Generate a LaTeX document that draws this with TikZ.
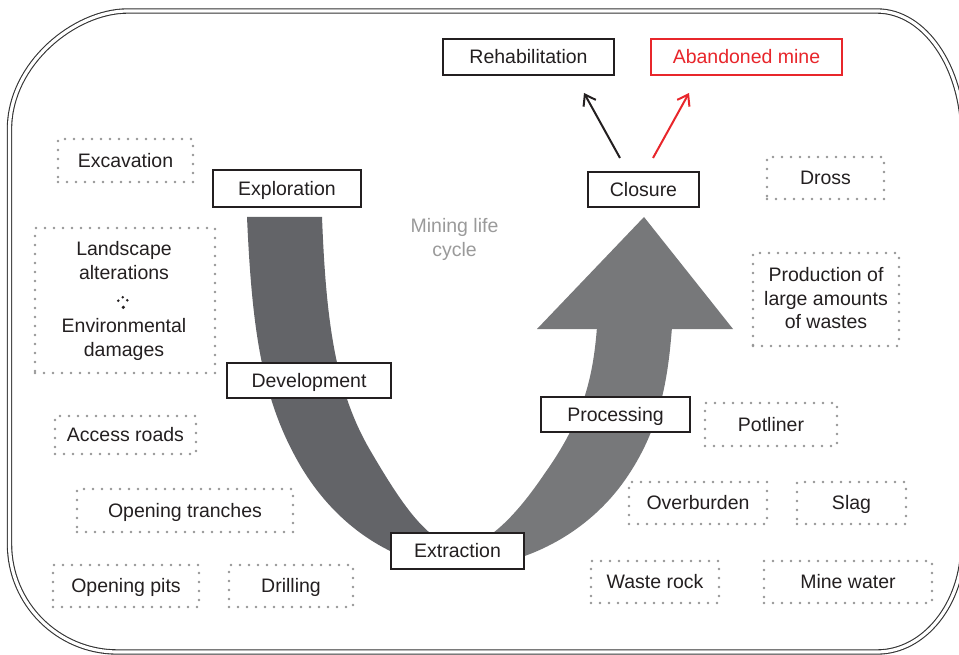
\documentclass[tikz,border=0pt]{standalone}
\usepackage{fontspec}
\setmainfont{Liberation Sans}
\usetikzlibrary{arrows.meta}
\definecolor{txt}{HTML}{231F20}
\definecolor{dotg}{HTML}{959595}
\definecolor{bandA}{HTML}{636468}
\definecolor{bandB}{HTML}{77787A}
\definecolor{redc}{HTML}{E8262B}
\definecolor{lifeg}{HTML}{9A9A9A}
\definecolor{framec}{HTML}{333333}
\begin{document}
\begin{tikzpicture}[x=1pt,y=-1pt,
  every node/.style={font=\fontsize{19.5}{24}\selectfont, text=txt},
  stagebox/.style={draw=txt, line width=1.2pt, fill=white, inner sep=0pt, text height=17.4pt, text depth=4pt},
  dotbox/.style={draw=dotg, line width=2.9pt, dash pattern=on 0pt off 9pt, line cap=round, inner sep=0pt, text height=17.4pt, text depth=4pt},
  plain/.style={align=center, inner sep=0pt},
  tiparrow/.style={line width=2pt, -{Straight Barb[length=10pt,width=14pt]}}
]
\useasboundingbox (0,0) rectangle (959,655);
\clip (0,0) rectangle (959,655);
% frame
\draw[framec, line width=1.1pt, double=white, double distance=3.2pt]
  (9.5,129) .. controls (9.5,63.8) and (74.7,11) .. (127.5,11)
  -- (877,11) .. controls (924.5,11) and (963,67) .. (963,136)
  -- (963,544) .. controls (963,603.6) and (924.5,652) .. (877,652)
  -- (117.5,652) .. controls (57.9,652) and (9.5,603.6) .. (9.5,544)
  -- cycle;
% U band, left part
\fill[bandA] (247,217) .. controls (252,330) and (262,400) .. (300,465)
  .. controls (338,530) and (400,568) .. (464,569)
  -- (464,549) .. controls (430,545) and (405,510) .. (370,450)
  .. controls (335,390) and (326,320) .. (322,217) -- cycle;
% U band, right part
\fill[bandB] (458,569) .. controls (530,566) and (590,530) .. (625,480)
  .. controls (660,430) and (668,380) .. (672,327)
  -- (597,327) .. controls (593,380) and (582,421) .. (545,473)
  .. controls (520,510) and (490,545) .. (458,549) -- cycle;
\fill[bandB] (537,329) -- (644,217) -- (733,329) -- cycle;
% stage boxes
\node[stagebox, minimum width=171pt, minimum height=36pt] (rehab) at (528.5,57) {Rehabilitation};
\node[stagebox, draw=redc, text=redc, minimum width=191pt, minimum height=36pt] (aband) at (746.5,57) {Abandoned mine};
\node[stagebox, minimum width=111pt, minimum height=35pt] (closure) at (643.5,189.5) {Closure};
\node[stagebox, minimum width=148pt, minimum height=37pt] (explor) at (287,188.5) {Exploration};
\node[stagebox, minimum width=164pt, minimum height=35pt] (devel) at (309,380.5) {Development};
\node[stagebox, minimum width=133pt, minimum height=36pt] (extract) at (457.5,551) {Extraction};
\node[stagebox, minimum width=149pt, minimum height=35pt] (process) at (615.5,414.5) {Processing};
% arrows from closure
\coordinate (a1s) at (620,158);
\coordinate (a1e) at (584,93);
\coordinate (a2s) at (653,158);
\coordinate (a2e) at (689,93);
\draw[tiparrow, txt] (a1s) -- (a1e);
\draw[tiparrow, redc] (a2s) -- (a2e);
% life cycle label
\node[plain, text=lifeg] (life) at (454.5,239) {Mining life\\cycle};
% dotted boxes, left
\node[dotbox, minimum width=135pt, minimum height=43pt] (excav) at (125.5,160.5) {Excavation};
\node[dotbox, minimum width=180pt, minimum height=145pt] (landbox) at (125,300.5) {};
\node[plain] (landtxt) at (124,260.9) {Landscape\\alterations};
\node[plain] (envtxt) at (124,339) {Environmental\\damages};
\fill[txt] (122.7,297.3) circle (1.4pt) (118.3,300.7) circle (1.4pt) (127.3,300.3) circle (1.4pt) (123.3,307.3) circle (1.8pt);
\node[dotbox, minimum width=141pt, minimum height=38pt] (access) at (125.5,435) {Access roads};
\node[dotbox, minimum width=216pt, minimum height=43pt] (tranch) at (185,510.5) {Opening tranches};
\node[dotbox, minimum width=146pt, minimum height=42pt] (pits) at (126,586) {Opening pits};
\node[dotbox, minimum width=124pt, minimum height=42pt] (drill) at (291,586) {Drilling};
% dotted boxes, right
\node[dotbox, minimum width=117pt, minimum height=42pt] (dross) at (825.5,178) {Dross};
\node[dotbox, minimum width=146pt, minimum height=93pt] (prodbox) at (826,299.5) {};
\node[plain, font=\fontsize{19.5}{23.5}\selectfont] (prodtxt) at (826,298.4) {Production of\\large amounts\\of wastes};
\node[dotbox, minimum width=132pt, minimum height=43pt] (potl) at (771,424.5) {Potliner};
\node[dotbox, minimum width=138pt, minimum height=42pt] (overb) at (698,503) {Overburden};
\node[dotbox, minimum width=109pt, minimum height=42pt] (slag) at (851.5,503) {Slag};
\node[dotbox, minimum width=128pt, minimum height=42pt] (waste) at (655,582) {Waste rock};
\node[dotbox, minimum width=168pt, minimum height=42pt] (minew) at (848,582) {Mine water};
\end{tikzpicture}
\end{document}
